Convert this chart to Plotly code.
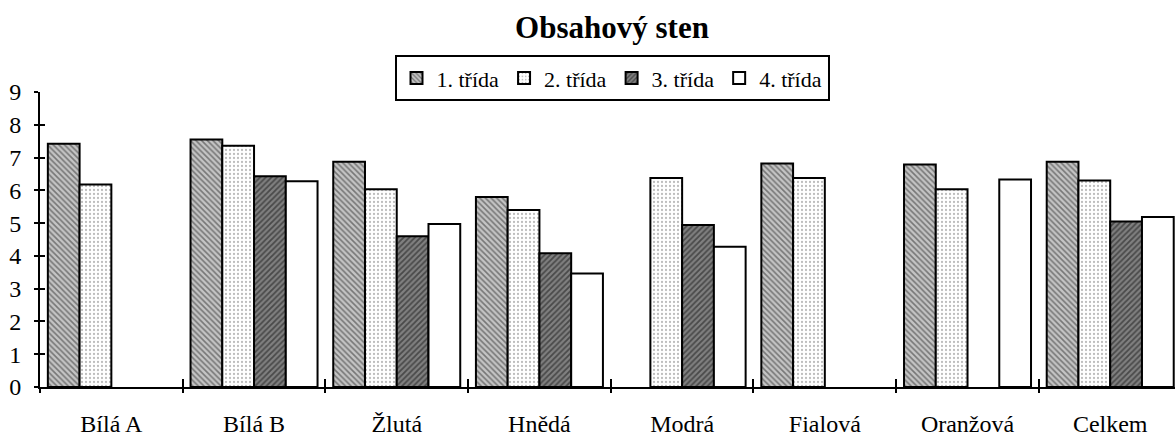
import plotly.graph_objects as go

categories = ["Bílá A", "Bílá B", "Žlutá", "Hnědá", "Modrá", "Fialová", "Oranžová", "Celkem"]
series_names = ["1. třída", "2. třída", "3. třída", "4. třída"]
trida1 = [7.42, 7.55, 6.87, 5.80, None, 6.82, 6.79, 6.87]
trida2 = [6.18, 7.36, 6.03, 5.40, 6.38, 6.38, 6.03, 6.30]
trida3 = [None, 6.43, 4.60, 4.08, 4.94, None, None, 5.05]
trida4 = [None, 6.28, 4.97, 3.46, 4.28, None, 6.33, 5.19]
y_ticks = [0, 1, 2, 3, 4, 5, 6, 7, 8, 9]

FONT = "Liberation Serif"

patterns = [
    dict(shape="\\", fgcolor="#2a2a2a", bgcolor="#c4c4c4", size=4, solidity=0.4),
    dict(shape=".", fgcolor="#7a7a7a", bgcolor="#ffffff", size=4, solidity=0.25),
    dict(shape="/", fgcolor="#111111", bgcolor="#808080", size=4, solidity=0.45),
    dict(shape="", fgcolor="#000000", bgcolor="#ffffff"),
]
fills = ["#c4c4c4", "#ffffff", "#808080", "#ffffff"]

fig = go.Figure()
for name, vals, pat, fc in zip(series_names, [trida1, trida2, trida3, trida4], patterns, fills):
    fig.add_trace(go.Bar(
        x=categories, y=vals, name=name,
        marker=dict(color=fc, pattern=pat, line=dict(color="black", width=2)),
        hoverinfo="x+y",
    ))

# invisible helper trace to carry secondary axes (for crossing tick marks)
fig.add_trace(go.Scatter(x=categories, y=[None] * len(categories), xaxis="x2", yaxis="y2",
                         showlegend=False, hoverinfo="skip", mode="markers"))

xr = [-0.5, 7.454]
fig.update_layout(
    width=1175, height=437,
    margin=dict(l=40, r=0, t=92, b=48),
    paper_bgcolor="white", plot_bgcolor="white",
    font=dict(family=FONT, size=24, color="black"),
    barmode="group", bargap=0.11, bargroupgap=0,
    title=dict(text="<b>Obsahový sten</b>", x=612 / 1175, xanchor="center",
               y=1 - 27 / 437, yanchor="middle", yref="container",
               font=dict(family=FONT, size=31, color="black")),
    legend=dict(orientation="h", x=(612 - 40) / 1135, xanchor="center", y=1 + 37 / 297, yanchor="top",
                bordercolor="black", borderwidth=2, bgcolor="white",
                font=dict(family=FONT, size=22, color="black"),
                itemwidth=30, traceorder="normal"),
    xaxis=dict(type="category", categoryarray=categories, range=xr,
               showline=True, linecolor="black", linewidth=2,
               ticks="inside", ticklen=8, tickwidth=2, tickcolor="black",
               tickson="boundaries", showgrid=False, zeroline=False,
               tickfont=dict(family=FONT, size=24), ticklabelstandoff=14),
    yaxis=dict(range=[0, 9], tickvals=y_ticks, showline=True, linecolor="black", linewidth=2,
               ticks="outside", ticklen=4, tickwidth=2, tickcolor="black",
               showgrid=False, zeroline=False, tickfont=dict(family=FONT, size=24),
               ticklabelstandoff=8),
    xaxis2=dict(type="category", categoryarray=categories, range=xr, overlaying="x",
                ticks="outside", ticklen=5, tickwidth=2, tickcolor="black",
                tickson="boundaries", showticklabels=False, showgrid=False,
                zeroline=False, showline=False),
    yaxis2=dict(range=[0, 9], tickvals=y_ticks, overlaying="y", side="left",
                ticks="inside", ticklen=5, tickwidth=2, tickcolor="black",
                showticklabels=False, showgrid=False, zeroline=False, showline=False),
)

fig.write_html("out.html", config={"displayModeBar": False},
               post_script="document.body.style.margin='0';document.body.style.overflow='hidden';")
